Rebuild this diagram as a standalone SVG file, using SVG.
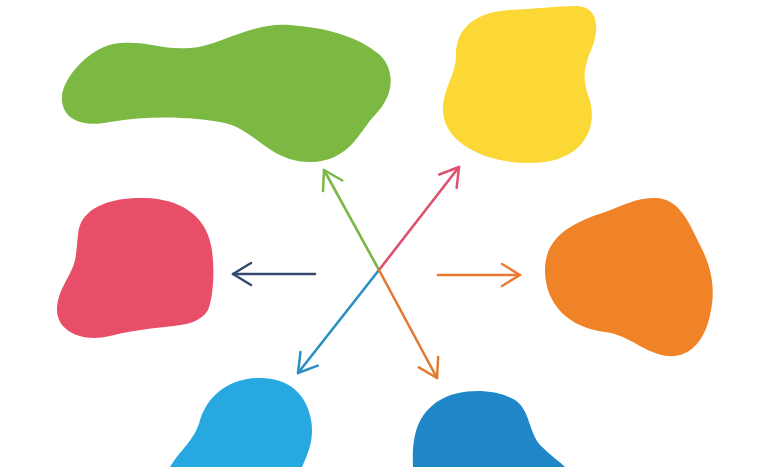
<svg xmlns="http://www.w3.org/2000/svg" width="771" height="467" viewBox="0 0 771 467">
<defs>
<style>
.c{fill:none;stroke-width:2.6;stroke-linecap:round}
.h{fill:none;stroke-width:2.5;stroke-linecap:round;stroke-linejoin:round}
</style>
<marker id="mNavy" markerUnits="userSpaceOnUse" markerWidth="26" markerHeight="26" viewBox="0 0 26 26" refX="22" refY="13" orient="auto"><path class="h" stroke="#34496e" d="M4,2 L22,13 L4,24"/></marker>
<marker id="mOrange" markerUnits="userSpaceOnUse" markerWidth="26" markerHeight="26" viewBox="0 0 26 26" refX="22" refY="13" orient="auto"><path class="h" stroke="#e97a30" d="M4,2 L22,13 L4,24"/></marker>
<marker id="mGreen" markerUnits="userSpaceOnUse" markerWidth="26" markerHeight="26" viewBox="0 0 26 26" refX="22" refY="13" orient="auto"><path class="h" stroke="#7ab648" d="M4,2 L22,13 L4,24"/></marker>
<marker id="mPink" markerUnits="userSpaceOnUse" markerWidth="26" markerHeight="26" viewBox="0 0 26 26" refX="22" refY="13" orient="auto"><path class="h" stroke="#e0506f" d="M4,2 L22,13 L4,24"/></marker>
<marker id="mBlue" markerUnits="userSpaceOnUse" markerWidth="26" markerHeight="26" viewBox="0 0 26 26" refX="22" refY="13" orient="auto"><path class="h" stroke="#2b8fc0" d="M4,2 L22,13 L4,24"/></marker>
<marker id="mOrange2" markerUnits="userSpaceOnUse" markerWidth="26" markerHeight="26" viewBox="0 0 26 26" refX="22" refY="13" orient="auto"><path class="h" stroke="#e27a32" d="M4,2 L22,13 L4,24"/></marker>
</defs>
<rect width="771" height="467" fill="#ffffff"/>
<g id="green-blob"><path fill="#7bb943" d="M62,100 C60,80 90,45 120,43 C150,41 160,50 190,48 C220,46 250,22 290,25 C330,28 360,38 380,55 C395,70 395,95 375,115 C360,130 350,162 310,162 C270,162 255,130 225,123 C195,117 150,115 110,122 C80,128 63,118 62,100 Z"/></g>
<g id="yellow-blob"><path fill="#fbd835" d="M456,55 C456,28 475,12 510,10 C535,9 555,6 578,6 C596,7 600,25 593,45 C586,62 581,75 588,95 C600,125 585,163 530,163 C480,163 443,140 443,110 C443,88 456,75 456,55 Z"/></g>
<g id="red-blob"><path fill="#e84e68" d="M78,235 C80,205 115,197 145,198 C180,199 205,215 211,245 C215,265 214,295 208,310 C200,323 185,325 165,327 C145,329 130,331 110,336 C80,343 57,330 57,310 C57,290 72,275 75,260 C77,250 77,243 78,235 Z"/></g>
<g id="orange-blob"><path fill="#f08228" d="M545,270 C545,235 575,222 605,212 C625,205 635,198 655,198 C680,198 690,225 700,245 C712,268 716,290 710,315 C705,340 690,358 668,356 C645,354 630,335 605,332 C570,328 545,305 545,270 Z"/></g>
<g id="lightblue-blob"><path fill="#27a8e0" d="M170,467 C180,450 195,440 200,420 C210,390 235,378 260,378 C290,378 305,395 310,415 C315,435 310,450 302,467 Z"/></g>
<g id="darkblue-blob"><path fill="#1f86c8" d="M413,467 C412,440 415,415 440,400 C460,388 495,388 515,400 C530,410 528,430 540,445 C550,455 560,462 565,467 Z"/></g>
<g id="connectors">
<path class="c" stroke="#34496e" d="M315,274 L233,274" marker-end="url(#mNavy)"/>
<path class="c" stroke="#e97a30" d="M438,275 L520,275" marker-end="url(#mOrange)"/>
<path class="c" stroke="#7ab648" d="M379,270 L324,170" marker-end="url(#mGreen)"/>
<path class="c" stroke="#e0506f" d="M379,270 L459,167" marker-end="url(#mPink)"/>
<path class="c" stroke="#2b8fc0" d="M379,270 L298,373" marker-end="url(#mBlue)"/>
<path class="c" stroke="#e27a32" d="M379,270 L437,378" marker-end="url(#mOrange2)"/>
</g>
</svg>
